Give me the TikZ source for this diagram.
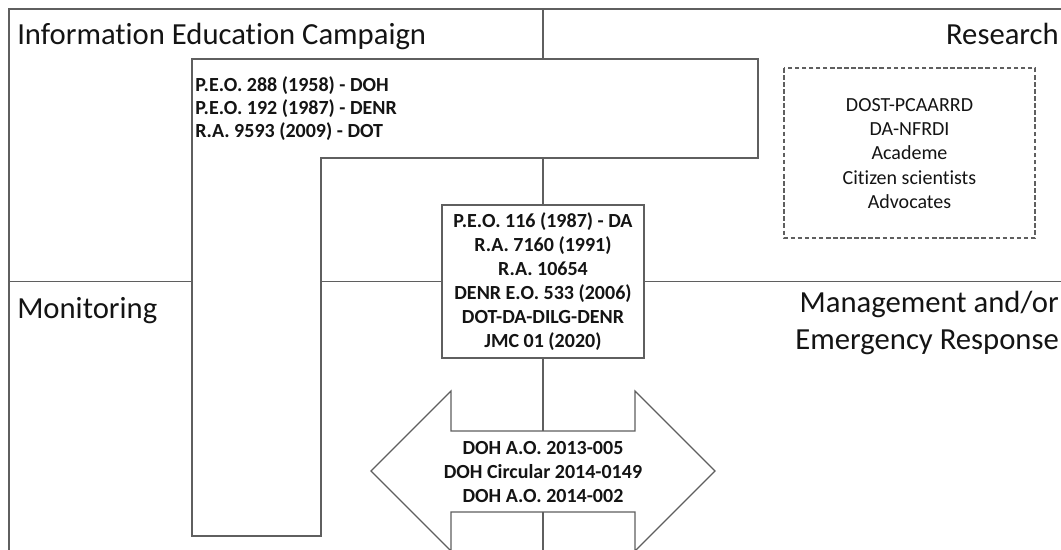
\documentclass[tikz,border=0pt]{standalone}
\usepackage{fontspec}
\setmainfont{Carlito}[Ligatures=NoCommon]
\definecolor{linec}{RGB}{95,95,95}
\definecolor{txt}{RGB}{20,20,20}
\begin{document}
\begin{tikzpicture}[x=0.75pt,y=-0.75pt,
  line/.style={draw=linec, line width=0.85pt},
  biglabel/.style={font=\fontsize{23}{27.8}\selectfont, text=txt, inner sep=0pt},
  boldtext/.style={font=\fontsize{15}{17.4}\selectfont\bfseries, text=txt, inner sep=0pt},
  plaintext/.style={font=\fontsize{15}{18.2}\selectfont, text=txt, inner sep=0pt, align=center},
  lawbox/.style={line, minimum width=151.5pt, minimum height=114.75pt, inner sep=0pt,
    align=center, font=\fontsize{15}{18}\selectfont\bfseries, text=txt},
  dashbox/.style={line, dash pattern=on 3.4pt off 1.9pt}
]
\useasboundingbox (0,0) rectangle (1061,550);
\clip (0,0) rectangle (1061,550);
\fill[white] (0,0) rectangle (1061,550);

% outer frame
\coordinate (ftl) at (9,9);
\coordinate (ftr) at (1070,9);
\coordinate (fbl) at (9,560);
\draw[line] (fbl) -- (ftl) -- (ftr);

% quadrant labels
\node[biglabel, anchor=base west] (iec) at (17,44) {Information Education Campaign};
\node[biglabel, anchor=base east] (res) at (1059,44) {Research};
\node[biglabel, anchor=base west] (mon) at (17,318) {Monitoring};
\node[biglabel, anchor=north east, align=right] (mgt) at (1059,291) {Management and/or\\Emergency Response};

% L-shaped box (IEC laws)
\coordinate (b1a) at (192,59);
\coordinate (b1b) at (758,59);
\coordinate (b1c) at (758,158);
\coordinate (b1d) at (321,158);
\coordinate (b1e) at (321,536);
\coordinate (b1f) at (192,536);
\draw[line, fill=white] (b1a) -- (b1b) -- (b1c) -- (b1d) -- (b1e) -- (b1f) -- cycle;
\node[boldtext, align=left, anchor=west] (b1txt) at (195,108.5)
  {P.E.O. 288 (1958) - DOH\\P.E.O. 192 (1987) - DENR\\R.A. 9593 (2009) - DOT};

% central law box
\node[lawbox] (b2) at (543,281.5)
  {P.E.O. 116 (1987) - DA\\R.A. 7160 (1991)\\R.A. 10654\\DENR E.O. 533 (2006)\\DOT-DA-DILG-DENR\\JMC 01 (2020)};

% double arrow
\coordinate (al) at (371,471);
\coordinate (ar) at (715,471);
\draw[line, fill=white] (al) -- (451,391) -- (451,431) -- (635,431) -- (635,391) -- (ar)
  -- (635,551) -- (635,512) -- (451,512) -- (451,551) -- cycle;
\coordinate (atop) at (543,431);
\coordinate (abot) at (543,512);
\node[boldtext, align=center, font=\fontsize{15}{18}\selectfont\bfseries] (atxt) at (543,472)
  {DOH A.O. 2013-005\\DOH Circular 2014-0149\\DOH A.O. 2014-002};

% research box
\draw[dashbox] (784,68) rectangle (1035,238);
\node[plaintext] (rtxt) at (909.5,153.5)
  {DOST-PCAARRD\\DA-NFRDI\\Academe\\Citizen scientists\\Advocates};

% central vertical divider
\coordinate (ctop) at (543,9);
\coordinate (c1) at (543,59);
\coordinate (c2) at (543,158);
\coordinate (cbot) at (543,560);
\draw[line] (ctop) -- (c1);
\draw[line] (c2) -- (b2.north);
\draw[line] (b2.south) -- (atop);
\draw[line] (abot) -- (cbot);

% central horizontal divider
\coordinate (hl) at (9,281.5);
\coordinate (hb1l) at (192,281.5);
\coordinate (hb1r) at (321,281.5);
\coordinate (hr) at (1070,281.5);
\draw[line] (hl) -- (hb1l);
\draw[line] (hb1r) -- (b2.west);
\draw[line] (b2.east) -- (hr);
\end{tikzpicture}
\end{document}
